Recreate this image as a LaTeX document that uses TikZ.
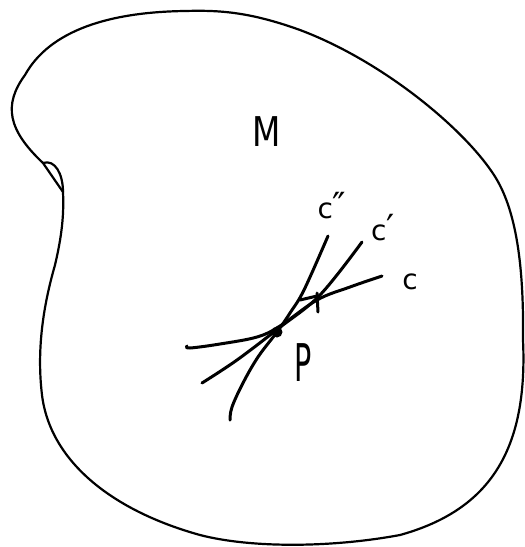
\documentclass[tikz,border=0pt]{standalone}
\usepackage{fontspec}
\setmainfont{DejaVu Sans}
\begin{document}
\begin{tikzpicture}[x=1pt,y=-1pt,
  outline/.style={line width=2.2pt,line join=round,line cap=round},
  curve/.style={line width=3pt,line cap=round,line join=round},
  lbl/.style={inner sep=0pt,anchor=center},
  small/.style={font=\fontsize{28}{30}\selectfont}]
\useasboundingbox (0,0) rectangle (525,547);
% manifold outline
\draw[outline] (43,163) -- (63,192)
  .. controls (64,215) and (62,235) .. (55,265)
  .. controls (45,300) and (36,345) .. (42,395)
  .. controls (50,460) and (110,510) .. (200,535)
  .. controls (250,548) and (330,548) .. (400,535)
  .. controls (490,510) and (528,450) .. (523,340)
  .. controls (524,260) and (515,205) .. (492,172)
  .. controls (460,125) and (380,60) .. (300,30)
  .. controls (250,12) and (220,10) .. (185,11)
  .. controls (110,12) and (50,30) .. (25,75)
  .. controls (3,105) and (8,130) .. (43,163);
% small loop on the outline
\draw[outline] (43,163) .. controls (55,159) and (63,174) .. (63,192);
% curves through p
\draw[curve] plot[smooth, tension=0.6] coordinates {(328,236) (304,290) (290,313) (277,332) (258,357) (243,383) (232,407) (230,420)};
\draw[curve] plot[smooth, tension=0.6] coordinates {(362,242) (320,295) (279,328) (237,360) (202,383)};
\draw[curve] plot[smooth, tension=0.6] coordinates {(382,276) (350,287) (317,300) (280,326) (257,337) (220,344) (190,348) (187,346)};
\draw[curve] (300,300) -- (317,296);
\draw[curve] (317,293) -- (318,312);
\fill (277,332) circle (5.5);
% labels
\node[lbl,font=\fontsize{41}{44}\selectfont,xscale=0.8] (M) at (267,132) {M};
\node[lbl,font=\fontsize{52}{56}\selectfont,xscale=0.55] (P) at (303,363) {P};
\node[lbl,small] (cpp) at (332,206) {c\fontsize{36}{38}\selectfont″};
\node[lbl,small] (cp) at (383,228) {c\fontsize{36}{38}\selectfont′};
\node[lbl,small] (c) at (410,282) {c};
\end{tikzpicture}
\end{document}
